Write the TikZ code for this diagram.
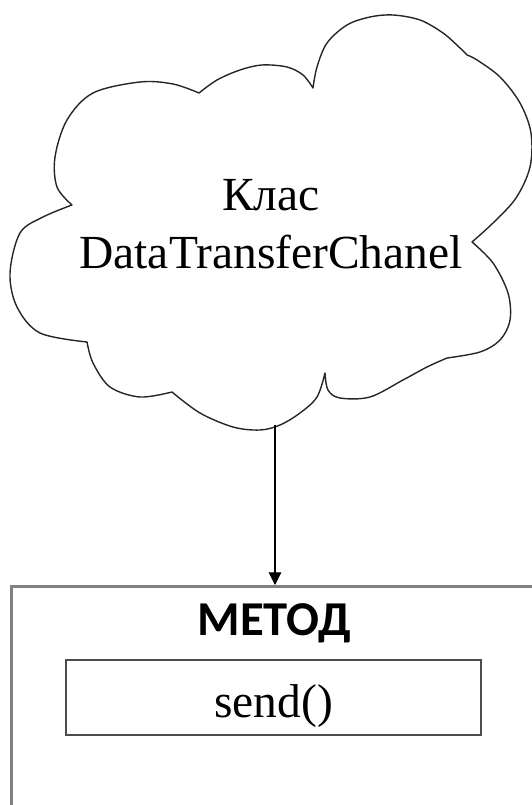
\documentclass[tikz,border=0pt]{standalone}
\usepackage{fontspec}
\setmainfont{Liberation Serif}
\newfontfamily\headfont{Carlito}
\usetikzlibrary{arrows.meta}
\usetikzlibrary{calc}

\begin{document}
\begin{tikzpicture}[x=0.75pt, y=-0.75pt,
    every node/.style={font=\fontsize{35.6}{43.5}\selectfont},
    cloudline/.style={draw=black!85, line width=1.05pt, line join=round},
    outerbox/.style={draw=black!50, line width=1.9pt, inner sep=0},
    innerbox/.style={draw=black!70, line width=1.4pt, inner sep=0}]
  \useasboundingbox (0,0) rectangle (531,805);
  % cloud, one smooth plot per lobe
  \draw[cloudline]
    plot[smooth, tension=0.55] coordinates {(72,205) (57,187) (55,157) (67,120) (93,93) (140,82) (173,84) (199,93)}
    -- plot[smooth, tension=0.55] coordinates {(199,93) (217,80) (240,70) (262,65) (287,67) (303,75) (313,88)}
    -- plot[smooth, tension=0.55] coordinates {(313,88) (317,67) (327,43) (347,25) (370,17) (393,15) (420,20) (443,33) (460,48) (467,55)}
    -- plot[smooth, tension=0.55] coordinates {(467,55) (477,60) (500,77) (520,103) (531,133) (530,167) (516,198) (493,223) (472,242)}
    -- plot[smooth, tension=0.55] coordinates {(472,242) (493,263) (508,293) (510,320) (500,340) (480,352) (447,358)}
    -- plot[smooth, tension=0.55] coordinates {(447,358) (427,367) (403,380) (370,397) (340,398) (328,390) (325,373)}
    -- plot[smooth, tension=0.55] coordinates {(325,373) (317,397) (300,413) (280,425) (260,430) (233,427) (200,413) (172,392)}
    -- plot[smooth, tension=0.55] coordinates {(172,392) (140,397) (110,387) (93,363) (87,342)}
    -- plot[smooth, tension=0.55] coordinates {(87,342) (40,333) (17,307) (10,273) (20,233) (43,217) (72,205)}
    -- cycle;
  \node[align=center] (klas) at (271,224) {Клас\\DataTransferChanel};
  \coordinate (cloudbot) at (275,425);

  % method box
  \node[outerbox, anchor=north west, minimum width=405pt, minimum height=180pt] (method) at (10,585) {};
  \node[anchor=base, font=\headfont\bfseries\fontsize{36.5}{42}\selectfont] (title) at (274.5,635) {МЕТОД};
  \node[innerbox, anchor=base, minimum width=311.25pt, text height=42.75pt, text depth=13.5pt] (send) at (273.5,717) {send()};

  \draw[-{Triangle[length=9.5pt, width=9.5pt]}, line width=0.8pt] (cloudbot) -- (cloudbot |- method.north);
\end{tikzpicture}
\end{document}
